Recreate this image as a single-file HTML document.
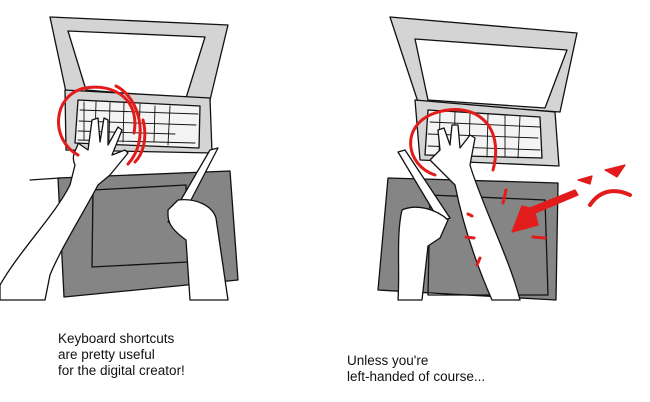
<!DOCTYPE html>
<html><head><style>
html,body{margin:0;padding:0;background:#fff;width:650px;height:402px;overflow:hidden}
svg{display:block}
text{font-family:"Liberation Sans",Arial,sans-serif;font-size:13.5px;fill:#111}
</style></head><body>
<svg width="650" height="402" viewBox="0 0 650 402" xmlns="http://www.w3.org/2000/svg">
<g stroke="#111" stroke-width="1.3" stroke-linejoin="round" stroke-linecap="round">
<!-- LEFT PANEL -->
<polygon points="50,17 228,25 210,100 66,92" fill="#d4d4d4"/>
<polygon points="68,31 205,37 186,98 86,90" fill="#fff"/>
<polygon points="65,90 210,98 212,153 66,150" fill="#d4d4d4"/>
<polygon points="78,100 200,106 199,148 75,143" fill="#f4f4f4"/>
<g fill="none" stroke-width="0.9">
<line x1="80" y1="110" x2="198" y2="114"/><line x1="79" y1="121" x2="196" y2="125"/>
<line x1="78" y1="131" x2="175" y2="134"/><line x1="78" y1="140" x2="195" y2="143"/>
<line x1="84" y1="102" x2="84" y2="140"/><line x1="96" y1="102" x2="95" y2="141"/>
<line x1="110" y1="103" x2="109" y2="141"/><line x1="124" y1="103" x2="123" y2="142"/>
<line x1="140" y1="104" x2="139" y2="142"/><line x1="155" y1="106" x2="154" y2="142"/>
<line x1="170" y1="106" x2="168" y2="145"/>
</g>
<polygon points="58,178 230,171 238,280 64,297" fill="#858585"/>
<polyline points="30,180 60,178" fill="none"/>
<polygon points="93,190 186,185 188,262 92,267" fill="none"/>
<path d="M0,285 C20,250 55,215 70,185 L75,165 C70,155 78,148 78,143 L88,150 L92,120 L98,118 L100,142 L104,118 L108,120 L108,145 L118,127 L122,130 L112,155 L125,150 L128,153 L110,175 L98,185 C85,210 60,250 50,275 L45,300 L0,300 Z" fill="#fff"/>
<polygon points="210,150 218,148 178,225 168,222" fill="#fff"/>
<path d="M168,210 L178,200 C195,198 212,205 216,218 L228,300 L190,300 L186,240 C175,232 168,225 168,215 Z" fill="#fff"/>
<g fill="none" stroke="#e21b1b" stroke-width="3">
<path d="M78,155 C50,140 52,95 85,88 C115,83 140,100 134,133"/>
<path d="M116,86 C140,98 150,140 128,164"/>
<path d="M143,120 C148,140 142,155 135,162"/>
</g>

<!-- RIGHT PANEL -->
<polygon points="390,17 577,33 560,112 418,102" fill="#d4d4d4"/>
<polygon points="415,39 567,50 545,108 428,100" fill="#fff"/>
<polygon points="415,100 555,112 559,166 420,160" fill="#d4d4d4"/>
<polygon points="428,110 540,117 542,158 425,155" fill="#f4f4f4"/>
<g fill="none" stroke-width="0.9">
<line x1="430" y1="122" x2="540" y2="127"/><line x1="428" y1="134" x2="538" y2="138"/>
<line x1="428" y1="146" x2="540" y2="150"/>
<line x1="440" y1="112" x2="439" y2="155"/><line x1="455" y1="112" x2="454" y2="156"/>
<line x1="470" y1="113" x2="469" y2="156"/><line x1="488" y1="114" x2="487" y2="157"/>
<line x1="505" y1="116" x2="505" y2="157"/><line x1="520" y1="116" x2="518" y2="158"/>
</g>
<polygon points="388,178 558,183 556,300 378,290" fill="#858585"/>
<polygon points="430,195 545,200 548,295 428,295" fill="none"/>
<path d="M430,160 L440,150 L438,130 L444,128 L450,145 L452,125 L458,125 L460,148 L470,135 L475,138 L470,165 C480,200 510,260 520,300 L492,300 C470,250 460,210 455,185 L440,170 Z" fill="#fff"/>
<polygon points="398,152 405,150 450,218 440,222" fill="#fff"/>
<path d="M402,210 C415,204 435,208 448,220 L440,238 L428,246 L422,300 L398,300 C400,270 396,235 402,210 Z" fill="#fff"/>
<g fill="none" stroke="#e21b1b" stroke-width="3">
<path d="M435,175 C405,165 400,125 435,113 C475,100 505,125 493,170"/>
</g>
<g fill="#e21b1b" stroke="#e21b1b">
<polygon points="575,190 578,195 535,213 538,225 512,232 522,206 530,208"/>
<path d="M590,205 C600,190 615,188 630,195" fill="none" stroke-width="4"/>
<path d="M578,180 L592,176 L590,184 Z"/>
<path d="M605,170 L625,165 L617,177 Z"/>
<line x1="506" y1="190" x2="503" y2="203" stroke-width="3"/>
<line x1="468" y1="214" x2="472" y2="216" stroke-width="3"/>
<line x1="466" y1="237" x2="474" y2="238" stroke-width="3"/>
<line x1="480" y1="258" x2="477" y2="265" stroke-width="3"/>
<line x1="533" y1="237" x2="545" y2="238" stroke-width="3"/>
</g>
</g>
<text x="58" y="343">Keyboard shortcuts</text>
<text x="58" y="359">are pretty useful</text>
<text x="58" y="375">for the digital creator!</text>
<text x="347" y="365">Unless you're</text>
<text x="347" y="381">left-handed of course...</text>
</svg>
</body></html>
